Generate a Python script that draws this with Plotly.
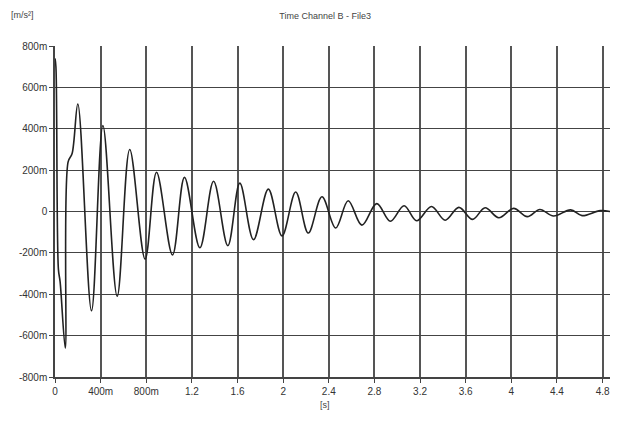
import plotly.graph_objects as go

# Data (time in s, acceleration in m/s^2)
time_s = [0.000, 0.008, 0.030, 0.045, 0.090, 0.115, 0.150, 0.200, 0.320, 0.420,
          0.545, 0.655, 0.790, 0.890, 1.030, 1.135, 1.270, 1.390, 1.515, 1.620,
          1.740, 1.870, 1.990, 2.110, 2.220, 2.340, 2.460, 2.570, 2.690, 2.820,
          2.940, 3.060, 3.170, 3.300, 3.420, 3.540, 3.660, 3.770, 3.890, 4.020,
          4.140, 4.250, 4.370, 4.520, 4.620, 4.780, 4.900]
accel = [0.74, 0.70, -0.28, -0.34, -0.66, 0.24, 0.28, 0.52, -0.48, 0.415,
         -0.41, 0.30, -0.23, 0.19, -0.21, 0.165, -0.175, 0.146, -0.165, 0.137,
         -0.136, 0.108, -0.118, 0.094, -0.104, 0.071, -0.080, 0.052, -0.066, 0.038,
         -0.047, 0.028, -0.045, 0.024, -0.042, 0.020, -0.038, 0.018, -0.030, 0.015,
         -0.025, 0.010, -0.022, 0.008, -0.020, 0.004, -0.004]

x_tickvals = [0, 0.4, 0.8, 1.2, 1.6, 2.0, 2.4, 2.8, 3.2, 3.6, 4.0, 4.4, 4.8]
x_ticktext = ["0", "400m", "800m", "1.2", "1.6", "2", "2.4", "2.8", "3.2", "3.6", "4", "4.4", "4.8"]
y_tickvals = [-0.8, -0.6, -0.4, -0.2, 0, 0.2, 0.4, 0.6, 0.8]
y_ticktext = ["-800m", "-600m", "-400m", "-200m", "0", "200m", "400m", "600m", "800m"]

title_text = "Time Channel B - File3"
y_unit = "[m/s²]"
x_unit = "[s]"

fig = go.Figure()
fig.add_trace(go.Scatter(
    x=time_s, y=accel, mode="lines",
    line=dict(color="#222222", width=1.6, shape="spline", smoothing=1.0),
    showlegend=False, hoverinfo="skip",
))

small = dict(family="Liberation Sans, Arial, sans-serif", size=9, color="#444444")

# the page body adds an 8px offset, so the figure is 8px smaller than the window
fig.update_layout(
    width=610, height=413,
    margin=dict(l=47, r=4, t=38, b=44, autoexpand=False),
    paper_bgcolor="white", plot_bgcolor="white",
    font=dict(family="Liberation Sans, Arial, sans-serif", size=10, color="#333333"),
    title=dict(text=title_text, x=0.52, xanchor="center", y=0.982, yanchor="middle", font=small),
    annotations=[
        dict(text=y_unit, xref="paper", yref="paper", x=-0.082, y=1.094,
             xanchor="left", yanchor="middle", showarrow=False, font=small),
        dict(text=x_unit, xref="paper", yref="paper", x=0.483, y=-0.085,
             xanchor="center", yanchor="middle", showarrow=False, font=small),
    ],
)
fig.update_xaxes(
    range=[0, 4.9], tickvals=x_tickvals, ticktext=x_ticktext, automargin=False,
    showgrid=True, gridcolor="#555555", gridwidth=1.5,
    showline=True, linecolor="#444444", linewidth=1.5,
    ticks="outside", ticklen=4, tickcolor="#444444",
    zeroline=False,
)
fig.update_yaxes(
    range=[-0.8, 0.8], tickvals=y_tickvals, ticktext=y_ticktext, automargin=False,
    showgrid=True, gridcolor="#444444", gridwidth=1.2,
    showline=True, linecolor="#444444", linewidth=1.5,
    ticks="outside", ticklen=4, tickcolor="#444444",
    zeroline=False,
)

fig.write_html("out.html")
